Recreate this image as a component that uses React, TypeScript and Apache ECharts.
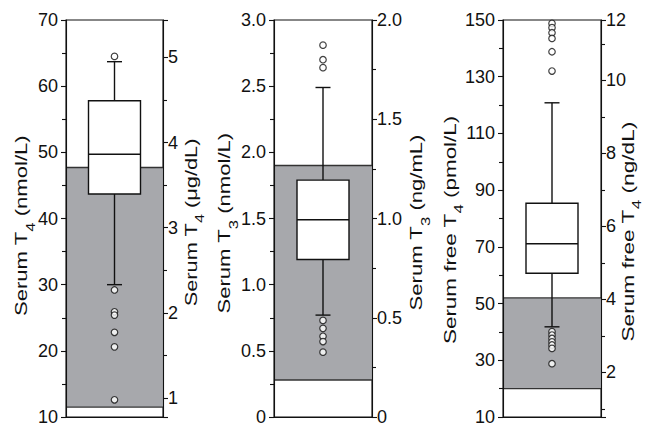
import React, { useEffect, useRef } from 'react';
import * as echarts from 'echarts';

const categories = [''];
// box statistics: [low whisker, Q1, median, Q3, high whisker]
const t4Box = [30.0, 43.7, 49.7, 57.8, 63.7];
const t4Outliers = [64.5, 29.2, 25.9, 25.4, 22.8, 20.6, 12.6];
const t4Reference = [11.5, 47.7];
const t3Box = [0.77, 1.19, 1.49, 1.79, 2.49];
const t3Outliers = [2.81, 2.7, 2.64, 0.73, 0.67, 0.61, 0.57, 0.49];
const t3Reference = [0.28, 1.9];
const ft4Box = [41.8, 60.7, 71.1, 85.4, 120.8];
const ft4Outliers = [148.8, 147.3, 145.5, 143.5, 138.8, 132.0, 40.1, 38.9, 37.7, 36.5, 35.4, 34.2, 28.8];
const ft4Reference = [20, 52];

// left axes: [min, max, label interval]
const leftAxes = [
  [10, 70, 10],
  [0, 3, 0.5],
  [10, 150, 20],
];
// conversion factors (left unit per right unit)
const t4Factor = 12.87;
const t3Factor = 1.5;
const ft4Factor = 12.87;
const ft4RightTopLabel = '12';

const leftNames = [
  ['Serum T', '4', ' (nmol/L)'],
  ['Serum T', '3', ' (nmol/L)'],
  ['Serum free T', '4', ' (pmol/L)'],
];
const rightNames = [
  ['Serum T', '4', ' (μg/dL)'],
  ['Serum T', '3', ' (ng/mL)'],
  ['Serum free T', '4', ' (ng/dL)'],
];

const FONT = '"Liberation Sans", Arial, Helvetica, sans-serif';
const INK = '#111';
const GRAY = '#a7a8ac';

export default function App() {
  const ref = useRef<HTMLDivElement>(null);
  useEffect(() => {
    if (!ref.current) return;
    const chart = echarts.init(ref.current, undefined, { renderer: 'svg' });

    const grids = [
      { left: 66, top: 20, width: 97, height: 397 },
      { left: 274, top: 20, width: 98, height: 397 },
      { left: 503, top: 20, width: 98, height: 397 },
    ];

    const t3Fmt = (v: number) => (v === 0 ? '0' : v.toFixed(1));

    const tickCommon = {
      axisLine: { show: true, lineStyle: { color: INK, width: 1.1 } },
      axisTick: { show: true, length: 5, lineStyle: { color: INK, width: 1.1 } },
      minorTick: { show: true, splitNumber: 2, length: 4, lineStyle: { color: INK, width: 1.1 } },
      splitLine: { show: false },
      minorSplitLine: { show: false },
      z: 6,
    };
    const labelCommon = { fontSize: 18, color: INK, fontFamily: FONT };

    const yAxes: any[] = [];
    leftAxes.forEach((a, i) => {
      yAxes.push({
        type: 'value',
        gridIndex: i,
        position: 'left',
        min: a[0],
        max: a[1],
        interval: a[2],
        ...tickCommon,
        axisLabel: { ...labelCommon, margin: 8, formatter: i === 1 ? t3Fmt : (v: number) => String(v) },
      });
      if (i === 0) {
        yAxes.push({
          type: 'value',
          gridIndex: i,
          position: 'right',
          min: a[0] / t4Factor,
          max: a[1] / t4Factor,
          splitNumber: 5,
          ...tickCommon,
          axisLabel: { ...labelCommon, margin: 5, showMinLabel: false, showMaxLabel: false, formatter: (v: number) => String(v) },
        });
      } else if (i === 1) {
        yAxes.push({
          type: 'value',
          gridIndex: i,
          position: 'right',
          min: a[0] / t3Factor,
          max: a[1] / t3Factor,
          interval: 0.5,
          ...tickCommon,
          axisLabel: { ...labelCommon, margin: 5, formatter: t3Fmt },
        });
      } else {
        const mx = a[1] / ft4Factor;
        yAxes.push({
          type: 'value',
          gridIndex: i,
          position: 'right',
          min: a[0] / ft4Factor,
          max: mx,
          splitNumber: 5,
          ...tickCommon,
          axisLabel: {
            ...labelCommon,
            margin: 5,
            showMinLabel: false,
            showMaxLabel: true,
            formatter: (v: number) => (Math.abs(v - mx) < 1e-6 ? ft4RightTopLabel : String(v)),
          },
        });
      }
    });

    const xAxes = grids.map((_, i) => ({
      type: 'category',
      gridIndex: i,
      data: categories,
      axisLine: { show: true, lineStyle: { color: INK, width: 1.1 } },
      axisTick: { show: false },
      axisLabel: { show: false },
      z: 6,
    }));

    const panels = [
      { box: t4Box, out: t4Outliers, refr: t4Reference },
      { box: t3Box, out: t3Outliers, refr: t3Reference },
      { box: ft4Box, out: ft4Outliers, refr: ft4Reference },
    ];

    const series: any[] = [];
    panels.forEach((p, i) => {
      series.push({
        type: 'custom',
        xAxisIndex: i,
        yAxisIndex: i * 2,
        z: 2,
        clip: false,
        encode: { x: 0, y: [1, 2, 3, 4, 5] },
        data: [[0, ...p.box, ...p.refr]],
        renderItem: (params: any, api: any) => {
          const cs = params.coordSys;
          const c = api.value(0);
          const pt = (k: number) => api.coord([c, api.value(k)]);
          const low = pt(1), q1 = pt(2), med = pt(3), q3 = pt(4), high = pt(5);
          const rl = pt(6), rh = pt(7);
          const cx = low[0];
          const bw = 52;
          const cw = 15;
          const lw = 1.4;
          return {
            type: 'group',
            children: [
              { type: 'rect', shape: { x: cs.x, y: rh[1], width: cs.width, height: rl[1] - rh[1] }, style: { fill: GRAY } },
              { type: 'line', shape: { x1: cs.x, y1: rh[1], x2: cs.x + cs.width, y2: rh[1] }, style: { stroke: '#333', lineWidth: 1.4 } },
              { type: 'line', shape: { x1: cs.x, y1: rl[1], x2: cs.x + cs.width, y2: rl[1] }, style: { stroke: '#333', lineWidth: 1.4 } },
              { type: 'line', shape: { x1: cx, y1: high[1], x2: cx, y2: q3[1] }, style: { stroke: INK, lineWidth: lw } },
              { type: 'line', shape: { x1: cx, y1: q1[1], x2: cx, y2: low[1] }, style: { stroke: INK, lineWidth: lw } },
              { type: 'line', shape: { x1: cx - cw / 2, y1: high[1], x2: cx + cw / 2, y2: high[1] }, style: { stroke: INK, lineWidth: lw } },
              { type: 'line', shape: { x1: cx - cw / 2, y1: low[1], x2: cx + cw / 2, y2: low[1] }, style: { stroke: INK, lineWidth: lw } },
              { type: 'rect', shape: { x: cx - bw / 2, y: q3[1], width: bw, height: q1[1] - q3[1] }, style: { fill: '#fff', stroke: INK, lineWidth: lw } },
              { type: 'line', shape: { x1: cx - bw / 2, y1: med[1], x2: cx + bw / 2, y2: med[1] }, style: { stroke: INK, lineWidth: lw } },
            ],
          };
        },
      });
      series.push({
        type: 'scatter',
        xAxisIndex: i,
        yAxisIndex: i * 2,
        z: 4,
        symbol: 'circle',
        symbolSize: 6.5,
        itemStyle: { color: '#fff', borderColor: INK, borderWidth: 1.2 },
        data: p.out.map((v) => [0, v]),
      });
    });

    const nameText = (parts: string[], x: number, y: number, sx: number) => ({
      type: 'text',
      x,
      y,
      rotation: Math.PI / 2,
      scaleX: sx,
      scaleY: 1,
      z: 10,
      style: {
        text: `{a|${parts[0]}}{s|${parts[1]}}{a|${parts[2]}}`,
        align: 'center',
        verticalAlign: 'middle',
        fill: INK,
        fontFamily: FONT,
        fontSize: 16,
        rich: {
          a: { fontSize: 16, fontFamily: FONT, fill: INK, verticalAlign: 'middle' },
          s: { fontSize: 12, fontFamily: FONT, fill: INK, verticalAlign: 'middle', padding: [18, 0, 0, 0] },
        },
      },
    });

    const graphics = [
      nameText(leftNames[0], 21.8, 225.8, 1.38),
      nameText(leftNames[1], 224.5, 223.3, 1.38),
      nameText(leftNames[2], 450, 230, 1.4),
      nameText(rightNames[0], 191.2, 222.5, 1.36),
      nameText(rightNames[1], 416.5, 222.6, 1.38),
      nameText(rightNames[2], 628, 231.7, 1.42),
    ];

    chart.setOption({
      animation: false,
      backgroundColor: '#fff',
      grid: grids.map((g) => ({ ...g, show: true, borderColor: INK, borderWidth: 1.1, backgroundColor: '#fff', z: 0 })),
      xAxis: xAxes,
      yAxis: yAxes,
      series,
      graphic: graphics,
    });
    return () => chart.dispose();
  }, []);
  return <div ref={ref} style={{ position: 'absolute', left: 0, top: 0, width: 652, height: 426 }} />;
}
